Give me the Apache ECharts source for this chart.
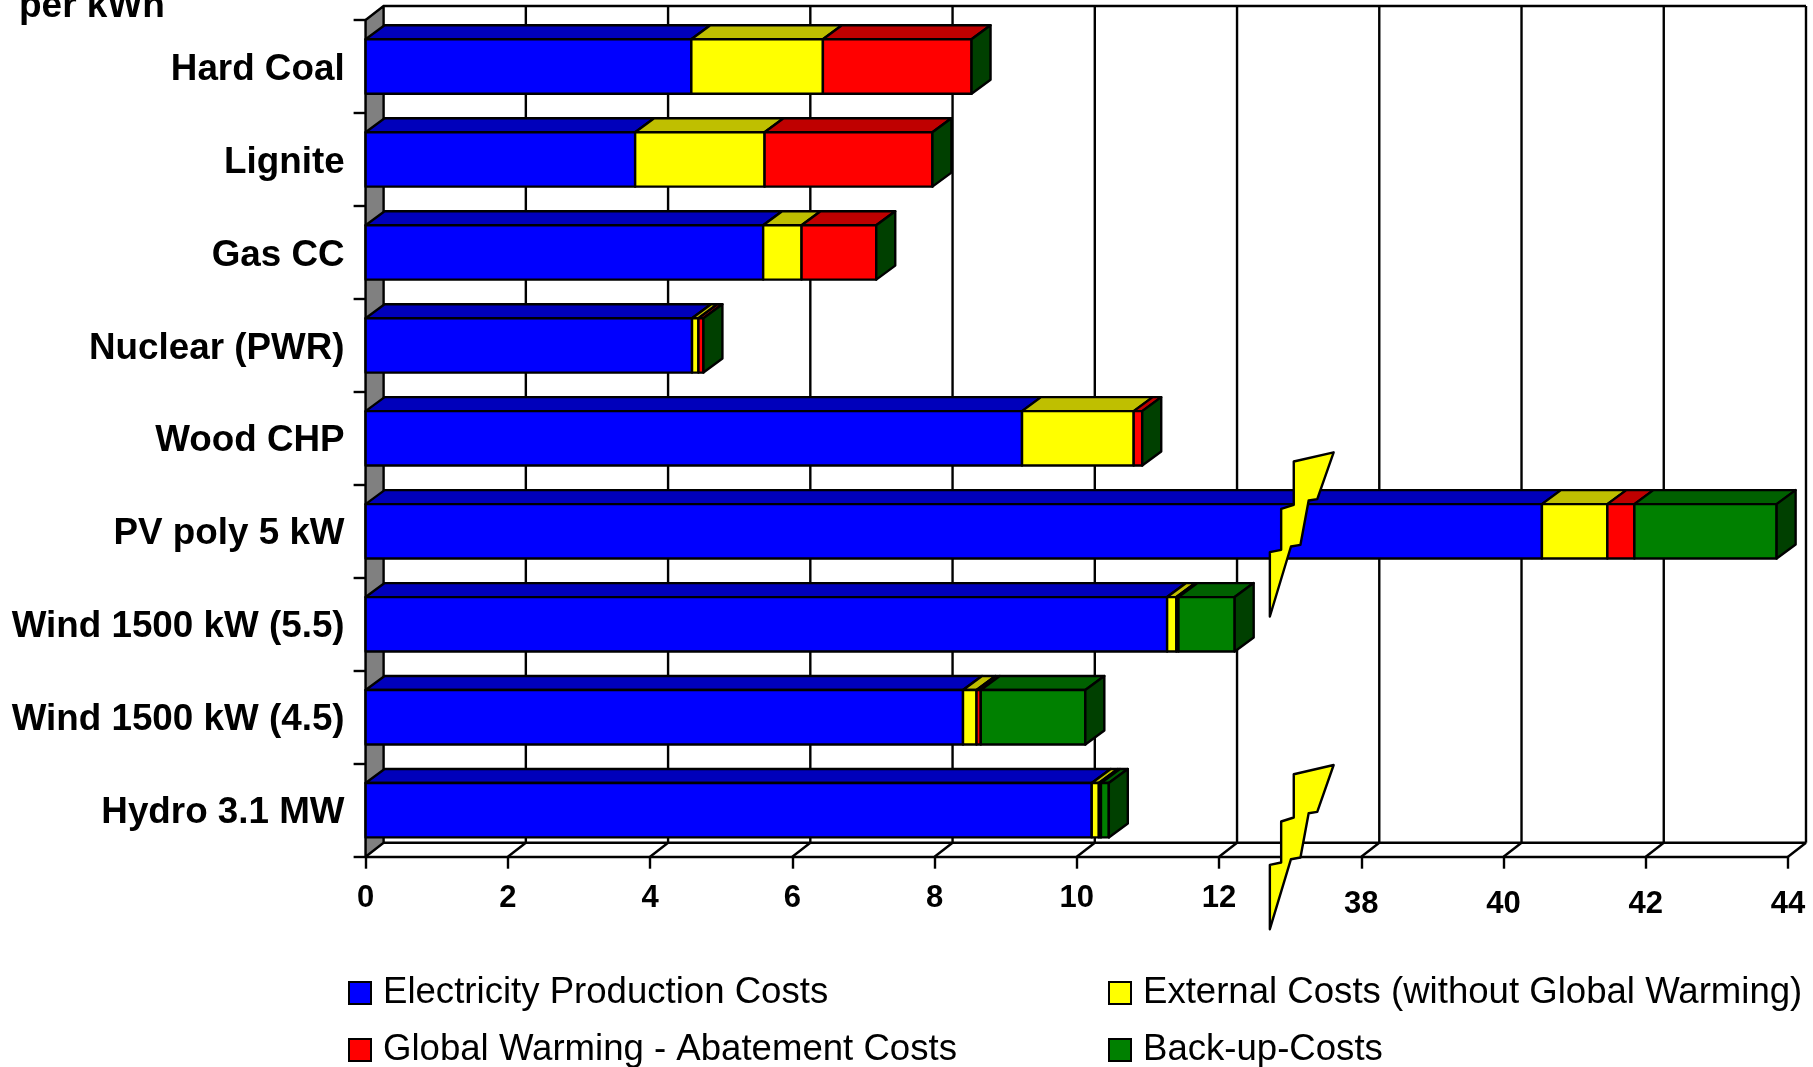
<!DOCTYPE html>
<html>
<head>
<meta charset="utf-8">
<title>Electricity generation costs per kWh</title>
<script src="https://cdn.jsdelivr.net/npm/echarts@6/dist/echarts.min.js"></script>
<style>
  html, body { margin: 0; padding: 0; background: #fff; }
  #chart { width: 1813px; height: 1067px; }
</style>
</head>
<body>
<div id="chart"></div>
<script>
// Generation options, top to bottom.
const categories = ['Hard Coal', 'Lignite', 'Gas CC', 'Nuclear (PWR)', 'Wood CHP',
  'PV poly 5 kW', 'Wind 1500 kW (5.5)', 'Wind 1500 kW (4.5)', 'Hydro 3.1 MW'];

// Cost components per kWh, one entry per generation option.
const productionCosts = [4.58, 3.79, 5.59, 4.59, 9.23, 40.54, 11.27, 8.40, 10.21];
const externalCosts   = [1.85, 1.82, 0.54, 0.09, 1.57, 0.92, 0.13, 0.19, 0.10];
const warmingCosts    = [2.09, 2.36, 1.05, 0.07, 0.12, 0.38, 0.03, 0.06, 0.03];
const backupCosts     = [0, 0, 0, 0, 0, 2.00, 0.79, 1.47, 0.11];

const tickValues = [0, 2, 4, 6, 8, 10, 12, 38, 40, 42, 44];
const axisBreak = { start: 13, end: 37, gap: 0 };

const seriesNames = ['Electricity Production Costs', 'External Costs (without Global Warming)',
  'Global Warming - Abatement Costs', 'Back-up-Costs'];
const frontColors = ['#0000ff', '#ffff00', '#ff0000', '#008000'];
const topColors   = ['#0000bb', '#bfbf00', '#bf0000', '#006000'];
const sideColor = '#004000';
const componentValues = [productionCosts, externalCosts, warmingCosts, backupCosts];

// Pseudo-3D projection used for the walls, floor and bars.
const DEPTH_X = 18, DEPTH_Y = 14, BAR_DEPTH_X = 19, BAR_RATIO = 0.585, LINE = 2.4;
const FONT = '"Liberation Sans", Arial, sans-serif';

// Axis-break lightning bolt outline, relative to the break position on the row.
const boltOutline = [[43.5, -79], [3.6, -69.8], [3.6, -26.5], [-9, -22.5], [-9, 18.5],
  [-20.3, 20.8], [-20.3, 85.2], [0.8, 15.2], [10.3, 13.5], [18.5, -30.8], [27.1, -32.2]];
const boltRows = [{ row: 5, shift: 0 }, { row: 8, shift: 33.8 }];

const stroke = { stroke: '#000', lineWidth: LINE, lineJoin: 'round' };

function poly(points, fill) {
  return { type: 'polygon', shape: { points }, style: Object.assign({ fill }, stroke) };
}
function seg(x1, y1, x2, y2) {
  return { type: 'line', shape: { x1, y1, x2, y2 }, style: { stroke: '#000', lineWidth: LINE } };
}

// Back wall, side wall, floor and their grid lines.
function renderFrame(params, api) {
  const box = params.coordSys;
  const top = box.y, floor = box.y + box.height;
  const children = [];
  const x0 = box.x;
  children.push(poly([[x0, top], [x0 + DEPTH_X, top - DEPTH_Y],
    [x0 + DEPTH_X, floor - DEPTH_Y], [x0, floor]], '#808080'));
  const right = api.coord([tickValues[tickValues.length - 1], 0])[0];
  children.push(seg(x0 + DEPTH_X, top - DEPTH_Y, right + DEPTH_X, top - DEPTH_Y));
  children.push(seg(x0 + DEPTH_X, floor - DEPTH_Y, right + DEPTH_X, floor - DEPTH_Y));
  tickValues.forEach(function (t) {
    const x = api.coord([t, 0])[0];
    if (t !== 0) {
      children.push(seg(x + DEPTH_X, top - DEPTH_Y, x + DEPTH_X, floor - DEPTH_Y));
      children.push(seg(x, floor, x + DEPTH_X, floor - DEPTH_Y));
    }
  });
  return { type: 'group', children };
}

// One stacked bar segment: front face and top face; the last component also closes the bar's end.
function makeSegmentRenderer(index) {
  return function (params, api) {
    const from = api.value(0), to = api.value(1), row = api.value(2);
    const half = api.size([0, 1])[1] * BAR_RATIO / 2;
    const a = api.coord([from, row]), b = api.coord([to, row]);
    const y0 = a[1] - half, y1 = a[1] + half;
    const children = [];
    if (to > from) {
      children.push(poly([[a[0] + BAR_DEPTH_X, y0 - DEPTH_Y], [b[0] + BAR_DEPTH_X, y0 - DEPTH_Y],
        [b[0], y0], [a[0], y0]], topColors[index]));
      children.push(poly([[a[0], y0], [b[0], y0], [b[0], y1], [a[0], y1]], frontColors[index]));
    }
    if (index === componentValues.length - 1) {
      children.push(poly([[b[0], y0], [b[0] + BAR_DEPTH_X, y0 - DEPTH_Y],
        [b[0] + BAR_DEPTH_X, y1 - DEPTH_Y], [b[0], y1]], sideColor));
    }
    return { type: 'group', children };
  };
}

function renderBolt(params, api) {
  const item = boltRows[params.dataIndex];
  const c = api.coord([api.value(0), item.row]);
  return poly(boltOutline.map(p => [c[0] + p[0], c[1] + p[1] + item.shift]), '#ffff00');
}

function stackedRows(index) {
  return categories.map(function (_, row) {
    let start = 0;
    for (let i = 0; i < index; i++) start += componentValues[i][row];
    return [start, start + componentValues[index][row], row];
  });
}

const barSeries = seriesNames.map(function (name, index) {
  return {
    type: 'custom', name, z: 3, clip: false, silent: true,
    renderItem: makeSegmentRenderer(index),
    encode: { x: [0, 1], y: 2 },
    itemStyle: { color: frontColors[index] },
    data: stackedRows(index)
  };
});

const legendCommon = {
  orient: 'vertical', icon: 'rect', itemWidth: 22, itemHeight: 22, itemGap: 15, selectedMode: false,
  padding: 0, height: 120,
  itemStyle: { borderColor: '#000', borderWidth: 2 },
  textStyle: { fontFamily: FONT, fontSize: 36.6, lineHeight: 42, color: '#000', padding: [0, 0, 0, 7] }
};

const chart = echarts.init(document.getElementById('chart'), null, { renderer: 'canvas' });
chart.setOption({
  animation: false,
  backgroundColor: '#fff',
  grid: { left: 365.6, right: 25, top: 20, bottom: 210.3 },
  legend: [
    Object.assign({}, legendCommon, { left: 348, top: 972, data: [seriesNames[0], seriesNames[2]] }),
    Object.assign({}, legendCommon, { left: 1108, top: 972, data: [seriesNames[1], seriesNames[3]] })
  ],
  graphic: [{
    type: 'text', x: 19, y: -12,
    style: { text: 'per kWh', font: 'bold 37px ' + FONT, fill: '#000' }
  }],
  xAxis: {
    type: 'value', min: 0, max: 44, breaks: [axisBreak],
    breakArea: { show: false },
    splitLine: { show: false },
    axisLine: { show: true, onZero: false, lineStyle: { color: '#000', width: LINE } },
    axisTick: { show: true, length: 12, customValues: tickValues, lineStyle: { color: '#000', width: LINE } },
    axisLabel: {
      show: true, margin: 26, hideOverlap: false, customValues: tickValues,
      formatter: v => (v >= 38 ? '{low|' + v + '}' : '{high|' + v + '}'),
      rich: {
        high: { fontFamily: FONT, fontWeight: 'bold', fontSize: 31, lineHeight: 31, color: '#000' },
        low: { fontFamily: FONT, fontWeight: 'bold', fontSize: 31, lineHeight: 44, color: '#000' }
      }
    }
  },
  yAxis: {
    type: 'category', inverse: true, data: categories,
    splitLine: { show: false },
    axisLine: { show: true, lineStyle: { color: '#000', width: LINE } },
    axisTick: { show: true, length: 12, lineStyle: { color: '#000', width: LINE } },
    axisLabel: { margin: 21, verticalAlign: 'top', lineHeight: 6, fontFamily: FONT, fontWeight: 'bold', fontSize: 36.8, color: '#000' }
  },
  series: [
    { type: 'custom', z: 2, clip: false, silent: true, renderItem: renderFrame,
      encode: { x: 0, y: 1 }, data: [[0, 0]] }
  ].concat(barSeries, [
    { type: 'custom', z: 4, clip: false, silent: true, renderItem: renderBolt,
      encode: { x: 0, y: 1 },
      data: boltRows.map(b => [axisBreak.start, b.row]) }
  ])
});
</script>
</body>
</html>
